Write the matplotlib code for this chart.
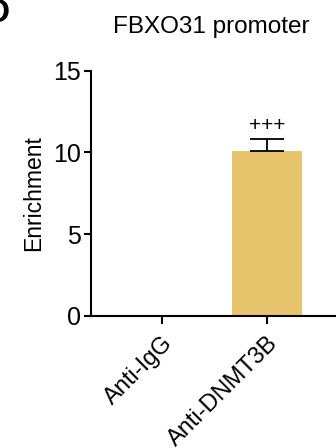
import matplotlib.pyplot as plt

plt.rcParams["font.family"] = ["Liberation Sans", "DejaVu Sans"]

groups = ["Anti-IgG", "Anti-DNMT3B"]
enrichment = [0.0, 10.1]
errors = [0.0, 0.75]
marks = ["", "+++"]
bar_color = "#E8C46C"

fig = plt.figure(figsize=(3.36, 4.48), dpi=100)
ax = fig.add_axes([0.271, 0.295, 0.729, 0.547])

x = list(range(len(groups)))
ax.bar(x, enrichment, width=0.667, color=bar_color, zorder=2)
ax.errorbar(x[1:], enrichment[1:], yerr=[[0], errors[1:]], fmt="none",
            ecolor="black", elinewidth=1.3, capsize=12.5, capthick=1.3, zorder=3)
for xi, v, e, m in zip(x, enrichment, errors, marks):
    if m:
        ax.text(xi, v + e + 0.2, m, ha="center", va="bottom", fontsize=15)

ax.set_xlim(-0.676, 1.66)
ax.set_ylim(0, 15)
ax.set_yticks([0, 5, 10, 15])
ax.set_xticks(x)
ax.set_xticklabels(groups, rotation=45, ha="right", rotation_mode="anchor", fontsize=17)
ax.tick_params(axis="y", labelsize=18, width=1.5, length=5, pad=2)
ax.tick_params(axis="x", width=1.5, length=6, pad=6)
ax.set_ylabel("Enrichment", fontsize=16.5, labelpad=6)

for side in ["top", "right"]:
    ax.spines[side].set_visible(False)
for side in ["left", "bottom"]:
    ax.spines[side].set_linewidth(1.5)

fig.text(0.63, 0.94, "FBXO31 promoter", ha="center", va="center", fontsize=17.5)
fig.text(0.028, 1.005, "D", ha="right", va="top", fontsize=24, fontweight="bold")

fig.savefig("out.png", dpi=100)
